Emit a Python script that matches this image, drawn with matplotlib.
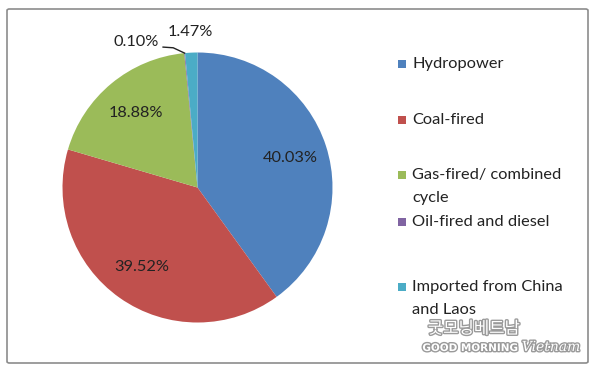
import matplotlib
matplotlib.use("Agg")
import matplotlib.pyplot as plt
from matplotlib.patches import FancyBboxPatch, Rectangle
import matplotlib.patheffects as pe
import numpy as np

categories = ["Hydropower", "Coal-fired", "Gas-fired/ combined\ncycle",
              "Oil-fired and diesel", "Imported from China\nand Laos"]
values = [40.03, 39.52, 18.88, 0.10, 1.47]
colors = ["#4F81BD", "#C0504D", "#9BBB59", "#8064A2", "#4BACC6"]

W, H = 600, 374
plt.rcParams['font.family'] = ['Lato', 'DejaVu Sans']
fig = plt.figure(figsize=(W / 100, H / 100), dpi=100)
fig.patch.set_facecolor("white")

# border
border = FancyBboxPatch((7 / W, (H - 363) / H), 581 / W, 354 / H,
                        boxstyle="round,pad=0,rounding_size=0.004",
                        transform=fig.transFigure, fill=False,
                        edgecolor="#8c8c8c", linewidth=1.2)
fig.patches.append(border)

cx, cy, r = 197.5, 187.5, 135
ax = fig.add_axes([(cx - r) / W, (H - cy - r) / H, 2 * r / W, 2 * r / H])
wedges, _ = ax.pie(values, colors=colors, startangle=90, counterclock=False,
                   radius=1, wedgeprops=dict(linewidth=0))
ax.set_xlim(-1, 1)
ax.set_ylim(-1, 1)
ax.set_aspect("equal")
ax.axis("off")

txtcol = "#222222"
fs = 11.8
for i, w in enumerate(wedges[:3]):
    ang = np.deg2rad((w.theta1 + w.theta2) / 2)
    d = 0.72
    ax.text(d * np.cos(ang), d * np.sin(ang), f"{values[i]:.2f}%",
            ha="center", va="center", fontsize=fs, color=txtcol)

# small slices labels
ax.text(-0.455, 1.075, f"{values[3]:.2f}%", ha="center", va="center",
        fontsize=fs, color=txtcol, clip_on=False)
ax.text(-0.055, 1.15, f"{values[4]:.2f}%", ha="center", va="center",
        fontsize=fs, color=txtcol, clip_on=False)
w = wedges[3]
ang = np.deg2rad((w.theta1 + w.theta2) / 2)
ax.plot([-0.255, -0.18, 1.0 * np.cos(ang)], [1.040, 1.035, 1.0 * np.sin(ang)],
        color="#222222", lw=1, clip_on=False)

# legend (manual layout)
leg_y = [64, 120, 175, 222, 287]
for lab, col, y in zip(categories, colors, leg_y):
    fig.patches.append(Rectangle((398 / W, (H - y - 4) / H), 8 / W, 8 / H,
                                 transform=fig.transFigure, facecolor=col,
                                 edgecolor="none"))
    fig.text(412 / W, (H - y) / H, lab.split("\n")[0], ha="left", va="center",
             fontsize=fs, color=txtcol)
    if "\n" in lab:
        fig.text(412 / W, (H - y - 23) / H, lab.split("\n")[1], ha="left",
                 va="center", fontsize=fs, color=txtcol)

# watermark
eff = [pe.withStroke(linewidth=2, foreground="#9a9a9a")]
fig.text(474 / W, (H - 329) / H, "굿모닝베트남", ha="center", va="center",
         fontsize=12, color="white", family=["Noto Sans CJK KR"],
         path_effects=eff)
fig.text(470 / W, (H - 348) / H, "GOOD MORNING", ha="center", va="center",
         fontsize=7.5, fontweight="bold", color="white", path_effects=eff,
         family=["DejaVu Sans"])
fig.text(551 / W, (H - 347) / H, "Vietnam", ha="center", va="center",
         fontsize=10, style="italic", color="white", path_effects=eff,
         family=["DejaVu Serif"])

fig.savefig("out.png", dpi=100)
